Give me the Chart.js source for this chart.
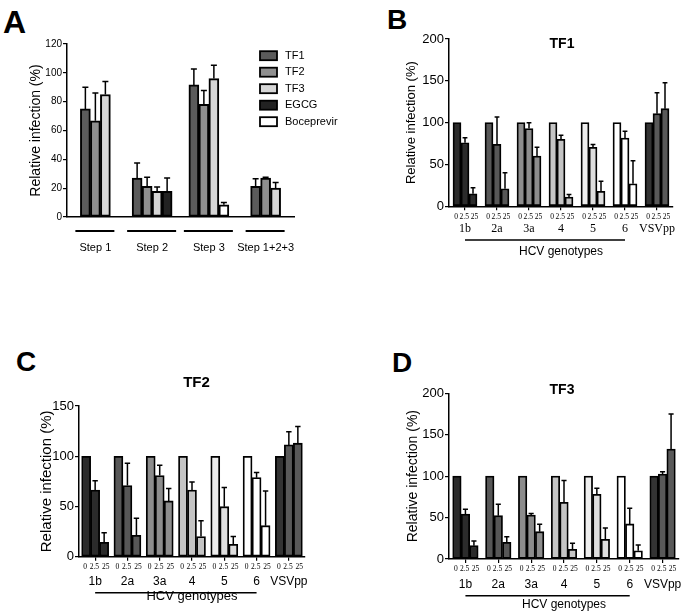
<!DOCTYPE html>
<html>
<head>
<meta charset="utf-8">
<script src="https://cdn.jsdelivr.net/npm/chart.js@4.4.1/dist/chart.umd.min.js"></script>
<style>
  body { margin: 0; background: #fff; }
  #fig { position: relative; width: 683px; height: 615px; overflow: hidden; }
  canvas { position: absolute; }
  .lbl { position: absolute; font: bold 28px "Liberation Sans", Arial, sans-serif; line-height: 28px; color: #000; }
</style>
</head>
<body>
<div id="fig">
  <div class="lbl" style="left:3px; top:6px; font-size:32px; line-height:32px">A</div>
  <div class="lbl" style="left:387px; top:6px">B</div>
  <div class="lbl" style="left:16px; top:348px">C</div>
  <div class="lbl" style="left:392px; top:349px">D</div>
  <canvas id="chartA" width="340" height="300" style="left:0; top:0"></canvas>
  <canvas id="chartB" width="343" height="300" style="left:340px; top:0"></canvas>
  <canvas id="chartC" width="340" height="315" style="left:0; top:300px"></canvas>
  <canvas id="chartD" width="343" height="315" style="left:340px; top:300px"></canvas>
</div>
<script>
const FONT = '"Liberation Sans", Arial, sans-serif';
const SERIF = '"Liberation Serif", "Times New Roman", serif';

// panel A - steps of the life cycle
const steps = ['Step 1', 'Step 2', 'Step 3', 'Step 1+2+3'];
const tf1Steps = [75, 27, 91.6, 21.2];
const tf1StepsErr = [15, 10.4, 11.1, 5.3];
const tf2Steps = [66.7, 21.2, 78.2, 27];
const tf2StepsErr = [19.3, 6.3, 9.5, 0.5];
const tf3Steps = [85, 17.8, 96, 20];
const tf3StepsErr = [9, 3, 9.2, 4];
const egcgSteps = [null, 17.8, null, null];
const egcgStepsErr = [null, 9.2, null, null];
const bocSteps = [null, null, 8.5, null];
const bocStepsErr = [null, null, 1.5, null];

// panels B-D - genotypes x dose (uM)
const genotypes = ['1b', '2a', '3a', '4', '5', '6', 'VSVpp'];
const doses = ['0', '2.5', '25'];
const dose0 = [100, 100, 100, 100, 100, 100, 100];

const tf1Dose2 = [76, 74, 93, 80, 70.5, 81.7, 110.7];
const tf1Dose2Err = [6, 32.8, 7, 5, 3.5, 7.9, 25.1];
const tf1Dose25 = [15, 21, 60, 11, 18, 27, 116.7];
const tf1Dose25Err = [7.3, 19, 10.5, 3, 12, 27.6, 31.1];

const tf2Dose2 = [66.4, 70.8, 80.7, 66.4, 49.8, 78.7, 111.3];
const tf2Dose2Err = [9.3, 22.2, 10.3, 8, 19.2, 5, 13];
const tf2Dose25 = [14.3, 21.3, 55.5, 20, 12.3, 30.9, 113];
const tf2Dose25Err = [9.6, 16.9, 12.3, 15.9, 7.7, 34.5, 16.6];

const tf3Dose2 = [54.3, 52.3, 53.1, 68.4, 78, 42.3, 102.6];
const tf3Dose2Err = [5.7, 13.7, 1.9, 26.2, 7.3, 18.9, 2.8];
const tf3Dose25 = [16.1, 20.1, 33, 11.7, 23.7, 10, 132.8];
const tf3Dose25Err = [5.6, 6.9, 8.9, 7.2, 13.7, 6.9, 42.2];

// fills
const fillZero = ['#2b2b2b', '#575757', '#8c8c8c', '#c4c4c4', '#eeeeee', '#ffffff', '#333333'];
const fillDose = ['#2b2b2b', '#575757', '#8c8c8c', '#c4c4c4', '#dedede', '#ffffff', '#595959'];

Chart.defaults.font.family = FONT;
Chart.defaults.color = '#000';

// upward error bars (mean + SD)
const errorBars = {
  id: 'errorBars',
  afterDatasetsDraw(chart) {
    const ctx = chart.ctx, y = chart.scales.y;
    ctx.save();
    ctx.strokeStyle = '#000';
    ctx.lineWidth = 1.5;
    chart.data.datasets.forEach((ds, i) => {
      if (!ds.errors) return;
      chart.getDatasetMeta(i).data.forEach((bar, j) => {
        const v = ds.data[j], e = ds.errors[j];
        if (v == null || !e) return;
        const top = y.getPixelForValue(v + e);
        const half = bar.width * 0.3;
        ctx.beginPath();
        ctx.moveTo(bar.x, bar.y);
        ctx.lineTo(bar.x, top);
        ctx.moveTo(bar.x - half, top);
        ctx.lineTo(bar.x + half, top);
        ctx.stroke();
      });
    });
    ctx.restore();
  }
};

const panelTitle = {
  id: 'panelTitle',
  afterDraw(chart, args, opts) {
    if (!opts.text) return;
    const a = chart.chartArea, ctx = chart.ctx;
    ctx.save();
    ctx.font = 'bold ' + opts.size + 'px ' + FONT;
    ctx.fillStyle = '#000';
    ctx.textAlign = 'center';
    ctx.textBaseline = 'middle';
    ctx.fillText(opts.text, (a.left + a.right) / 2 + opts.dx, a.top + opts.dy);
    ctx.restore();
  }
};

// dose labels under each bar + "HCV genotypes" bracket line
const doseNudge = [-1, -0.8, 1.5];
const doseAxis = {
  id: 'doseAxis',
  afterDraw(chart, args, opts) {
    if (!opts.on) return;
    const ctx = chart.ctx, a = chart.chartArea, x = chart.scales.x;
    ctx.save();
    ctx.font = '7.5px ' + SERIF;
    ctx.fillStyle = '#000';
    ctx.textAlign = 'center';
    ctx.textBaseline = 'middle';
    chart.data.datasets.forEach((ds, i) => {
      chart.getDatasetMeta(i).data.forEach(bar => {
        ctx.fillText(ds.label, bar.x + doseNudge[i], a.bottom + opts.labelGap);
      });
    });
    ctx.strokeStyle = '#000';
    ctx.lineWidth = 1.5;
    ctx.beginPath();
    ctx.moveTo(x.getPixelForValue(0), a.bottom + opts.lineGap);
    ctx.lineTo(x.getPixelForValue(5), a.bottom + opts.lineGap);
    ctx.stroke();
    ctx.restore();
  }
};

// lines under each step group in panel A
const stepLines = {
  id: 'stepLines',
  afterDraw(chart, args, opts) {
    if (!opts.on) return;
    const ctx = chart.ctx, a = chart.chartArea;
    ctx.save();
    ctx.strokeStyle = '#000';
    ctx.lineWidth = 2;
    chart.data.labels.forEach((l, j) => {
      let lo = Infinity, hi = -Infinity;
      chart.data.datasets.forEach((ds, i) => {
        if (ds.data[j] == null) return;
        const bar = chart.getDatasetMeta(i).data[j];
        lo = Math.min(lo, bar.x - bar.width / 2);
        hi = Math.max(hi, bar.x + bar.width / 2);
      });
      ctx.beginPath();
      ctx.moveTo(lo - 5, a.bottom + opts.gap);
      ctx.lineTo(hi + 4, a.bottom + opts.gap);
      ctx.stroke();
    });
    ctx.restore();
  }
};

const boxLegend = {
  id: 'boxLegend',
  afterDraw(chart, args, opts) {
    if (!opts.on) return;
    const ctx = chart.ctx;
    ctx.save();
    ctx.font = '11px ' + FONT;
    ctx.textBaseline = 'middle';
    ctx.textAlign = 'left';
    chart.data.datasets.forEach((ds, i) => {
      const y = opts.top + i * opts.rowGap;
      ctx.fillStyle = ds.backgroundColor;
      ctx.fillRect(opts.left, y - 4.5, 17, 9);
      ctx.strokeStyle = '#000';
      ctx.lineWidth = 1.8;
      ctx.strokeRect(opts.left, y - 4.5, 17, 9);
      ctx.fillStyle = '#000';
      ctx.fillText(ds.label, opts.left + 25, y);
    });
    ctx.restore();
  }
};

Chart.register(errorBars, panelTitle, doseAxis, stepLines, boxLegend);

function yAxis(max, tickSize, titleSize, titlePad, width) {
  return {
    min: 0,
    max: max,
    ticks: { stepSize: max === 120 ? 20 : 50, font: { size: tickSize }, color: '#000', padding: 1 },
    grid: { drawOnChartArea: false, tickLength: 4, color: '#000', lineWidth: 1.2 },
    border: { color: '#000', width: 1.5 },
    title: { display: true, text: 'Relative infection (%)', font: { size: titleSize }, color: '#000', padding: { top: titlePad, bottom: 0 } },
    afterFit: s => { s.width = width; s.paddingTop = 0; s.paddingBottom = 0; s.paddingLeft = 0; s.paddingRight = 0; }
  };
}

function barStyle(fill, width) {
  return { backgroundColor: fill, borderColor: '#000000', borderWidth: width, borderSkipped: false };
}

// Panel A
new Chart(document.getElementById('chartA'), {
  type: 'bar',
  data: {
    labels: steps,
    datasets: [
      Object.assign({ label: 'TF1', data: tf1Steps, errors: tf1StepsErr }, barStyle('#5b5b5b', 2)),
      Object.assign({ label: 'TF2', data: tf2Steps, errors: tf2StepsErr }, barStyle('#8f8f8f', 2)),
      Object.assign({ label: 'TF3', data: tf3Steps, errors: tf3StepsErr }, barStyle('#d6d6d6', 2)),
      Object.assign({ label: 'EGCG', data: egcgSteps, errors: egcgStepsErr }, barStyle('#222222', 2)),
      Object.assign({ label: 'Boceprevir', data: bocSteps, errors: bocStepsErr }, barStyle('#ffffff', 2))
    ]
  },
  options: {
    responsive: false,
    animation: false,
    events: [],
    layout: { padding: { top: 44, right: 46, left: 0, bottom: 0 } },
    datasets: { bar: { skipNull: true, barThickness: 10 } },
    scales: {
      x: {
        grid: { display: true, drawOnChartArea: false, drawTicks: false },
        border: { color: '#000', width: 1.5 },
        ticks: { font: { size: 11 }, color: '#000', padding: 24.4, autoSkip: false, maxRotation: 0 },
        afterFit: s => { s.height = 83; s.paddingLeft = 0; s.paddingRight = 0; }
      },
      y: yAxis(120, 10, 14, 27.6, 67)
    },
    plugins: {
      legend: { display: false },
      tooltip: { enabled: false },
      stepLines: { on: true, gap: 14 },
      boxLegend: { on: true, left: 260, top: 55.7, rowGap: 16.5 }
    }
  }
});

function genotypeChart(id, o) {
  new Chart(document.getElementById(id), {
    type: 'bar',
    data: {
      labels: genotypes,
      datasets: [
        Object.assign({ label: doses[0], data: dose0 }, barStyle(fillZero, 1.8)),
        Object.assign({ label: doses[1], data: o.d2, errors: o.d2e }, barStyle(fillDose, 1.8)),
        Object.assign({ label: doses[2], data: o.d25, errors: o.d25e }, barStyle(fillDose, 1.8))
      ]
    },
    options: {
      responsive: false,
      animation: false,
      events: [],
      layout: { padding: { top: o.top, right: o.right, left: 0, bottom: 0 } },
      datasets: { bar: { barThickness: o.bar } },
      scales: {
        x: {
          grid: { offset: false, drawOnChartArea: false, tickLength: 4, color: '#000', lineWidth: 1.2 },
          border: { color: '#000', width: 1.5 },
          ticks: { font: { size: 12, family: o.labelFont }, color: '#000', padding: o.tickPad, autoSkip: false, maxRotation: 0 },
          title: { display: true, text: 'HCV genotypes', font: { size: o.xTitleSize }, color: '#000', padding: { top: 0, bottom: o.xTitlePad } },
          afterFit: s => { s.height = o.xHeight; s.paddingLeft = 0; s.paddingRight = 0; }
        },
        y: yAxis(o.max, 13, o.yTitleSize, o.yTitlePad, o.yWidth)
      },
      plugins: {
        legend: { display: false },
        tooltip: { enabled: false },
        panelTitle: { text: o.title, size: o.titleSize, dx: o.titleDx, dy: o.titleDy },
        doseAxis: { on: true, labelGap: o.labelGap, lineGap: o.lineGap }
      }
    }
  });
}

genotypeChart('chartB', {
  d2: tf1Dose2, d2e: tf1Dose2Err, d25: tf1Dose25, d25e: tf1Dose25Err,
  max: 200, top: 39, right: 10, yWidth: 109, xHeight: 93.7, bar: 8,
  labelFont: SERIF, tickPad: 11.5, xTitleSize: 12, xTitlePad: 40.8,
  yTitleSize: 13, yTitlePad: 64, title: 'TF1', titleSize: 14, titleDx: 1, titleDy: 5,
  labelGap: 10.7, lineGap: 33.7
});

genotypeChart('chartC', {
  d2: tf2Dose2, d2e: tf2Dose2Err, d25: tf2Dose25, d25e: tf2Dose25Err,
  max: 150, top: 106, right: 35, yWidth: 79, xHeight: 58.3, bar: 9,
  labelFont: FONT, tickPad: 13.8, xTitleSize: 13, xTitlePad: 10.5,
  yTitleSize: 15, yTitlePad: 38, title: 'TF2', titleSize: 15, titleDx: 4.5, titleDy: -23,
  labelGap: 10, lineGap: 36
});

genotypeChart('chartD', {
  d2: tf3Dose2, d2e: tf3Dose2Err, d25: tf3Dose25, d25e: tf3Dose25Err,
  max: 200, top: 93.3, right: 4, yWidth: 109, xHeight: 56, bar: 8.5,
  labelFont: FONT, tickPad: 14.8, xTitleSize: 12, xTitlePad: 3.5,
  yTitleSize: 14, yTitlePad: 64.6, title: 'TF3', titleSize: 14, titleDx: -2, titleDy: -3.3,
  labelGap: 10.3, lineGap: 36.7
});
</script>
</body>
</html>
